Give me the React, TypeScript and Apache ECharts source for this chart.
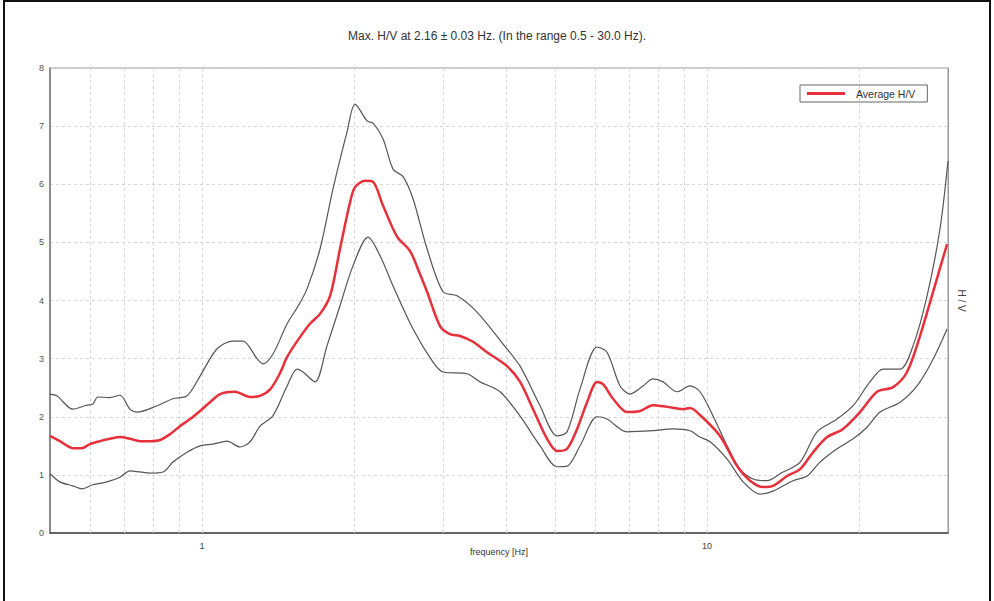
import React, { useEffect, useRef } from "react";
import * as echarts from "echarts";

const titleText = "Max. H/V at 2.16 ± 0.03 Hz. (In the range 0.5 - 30.0 Hz).";
const xAxisName = "frequency [Hz]";
const yAxisName = "H / V";
const legendName = "Average H/V";

const avgFreq = [0.5, 0.523, 0.555, 0.579, 0.6, 0.628, 0.657, 0.688, 0.72, 0.754, 0.789, 0.826, 0.864, 0.905, 0.947, 0.991, 1.037, 1.086, 1.162, 1.245, 1.303, 1.364, 1.427, 1.474, 1.563, 1.636, 1.713, 1.793, 1.876, 1.964, 2.009, 2.103, 2.181, 2.283, 2.433, 2.582, 2.702, 2.79, 2.96, 3.098, 3.243, 3.44, 3.667, 4.018, 4.264, 4.524, 4.822, 5.047, 5.282, 5.529, 5.787, 6.057, 6.225, 6.515, 6.945, 7.369, 7.818, 8.332, 8.966, 9.255, 9.685, 10.61, 11.47, 12.17, 12.91, 13.51, 14.4, 15.29, 16.22, 17.29, 18.59, 20.09, 21.71, 23.36, 24.89, 26.41, 28.03, 29.87];
const avgVal = [1.67, 1.58, 1.46, 1.46, 1.53, 1.58, 1.62, 1.65, 1.62, 1.58, 1.58, 1.6, 1.7, 1.84, 1.96, 2.1, 2.25, 2.39, 2.43, 2.34, 2.36, 2.47, 2.75, 3.03, 3.37, 3.6, 3.77, 4.08, 4.89, 5.69, 5.95, 6.06, 6.04, 5.63, 5.1, 4.85, 4.45, 4.15, 3.56, 3.42, 3.39, 3.29, 3.11, 2.87, 2.6, 2.13, 1.62, 1.41, 1.45, 1.79, 2.25, 2.6, 2.56, 2.31, 2.08, 2.1, 2.2, 2.17, 2.13, 2.15, 2.03, 1.67, 1.15, 0.9, 0.79, 0.81, 0.98, 1.1, 1.39, 1.65, 1.79, 2.08, 2.43, 2.51, 2.77, 3.39, 4.15, 4.97];

const upperFreq = [0.5, 0.516, 0.555, 0.592, 0.608, 0.622, 0.657, 0.688, 0.72, 0.744, 0.815, 0.876, 0.934, 0.991, 1.071, 1.152, 1.206, 1.285, 1.321, 1.382, 1.474, 1.549, 1.614, 1.713, 1.817, 1.937, 2.009, 2.122, 2.181, 2.283, 2.389, 2.5, 2.617, 2.79, 3.001, 3.199, 3.503, 3.946, 4.264, 4.67, 5.047, 5.282, 5.605, 6.057, 6.339, 6.727, 7.041, 7.47, 7.818, 8.182, 8.722, 9.255, 9.685, 10.28, 10.96, 11.62, 12.34, 13.15, 13.95, 15.29, 16.51, 18.09, 19.46, 21.02, 22.32, 24.12, 25.58, 27.27, 28.92, 30.0];
const upperVal = [2.39, 2.36, 2.13, 2.2, 2.22, 2.34, 2.33, 2.37, 2.13, 2.08, 2.19, 2.31, 2.36, 2.7, 3.17, 3.3, 3.3, 3.0, 2.91, 3.08, 3.6, 3.9, 4.2, 4.89, 5.92, 6.9, 7.38, 7.09, 7.05, 6.78, 6.26, 6.13, 5.75, 4.89, 4.15, 4.08, 3.8, 3.25, 2.87, 2.19, 1.67, 1.74, 2.48, 3.2, 3.11, 2.53, 2.39, 2.53, 2.65, 2.6, 2.43, 2.53, 2.43, 2.01, 1.5, 1.1, 0.93, 0.9, 1.02, 1.22, 1.74, 1.96, 2.19, 2.6, 2.82, 2.82, 3.22, 4.08, 5.23, 6.4];

const lowerFreq = [0.5, 0.523, 0.555, 0.579, 0.608, 0.648, 0.688, 0.72, 0.754, 0.789, 0.837, 0.876, 0.934, 0.991, 1.051, 1.121, 1.189, 1.245, 1.303, 1.382, 1.474, 1.542, 1.585, 1.674, 1.768, 1.876, 1.991, 2.132, 2.252, 2.389, 2.617, 2.867, 3.001, 3.348, 3.552, 3.892, 4.264, 4.67, 5.047, 5.282, 5.605, 6.057, 6.339, 6.945, 7.818, 8.564, 9.255, 9.685, 10.14, 10.96, 11.79, 12.73, 13.51, 14.8, 15.78, 16.74, 18.09, 19.46, 20.74, 22.01, 24.12, 26.05, 28.03, 29.87];
const lowerVal = [1.02, 0.88, 0.81, 0.76, 0.83, 0.88, 0.96, 1.07, 1.05, 1.03, 1.05, 1.22, 1.39, 1.5, 1.53, 1.58, 1.48, 1.57, 1.84, 2.02, 2.53, 2.82, 2.77, 2.6, 3.22, 3.91, 4.6, 5.09, 4.77, 4.25, 3.51, 2.94, 2.77, 2.74, 2.6, 2.43, 2.01, 1.5, 1.14, 1.15, 1.5, 2.0, 1.96, 1.74, 1.76, 1.79, 1.76, 1.65, 1.57, 1.27, 0.88, 0.67, 0.72, 0.9, 0.98, 1.22, 1.45, 1.62, 1.82, 2.08, 2.25, 2.53, 2.99, 3.51];

const verticalGridFreqs = [0.6, 0.7, 0.8, 0.9, 1, 2, 3, 4, 5, 6, 7, 8, 9, 10, 20];

const zip = (xs: number[], ys: number[]) => xs.map((x, i) => [x, ys[i]]);

export default function App() {
  const ref = useRef<HTMLDivElement>(null);
  useEffect(() => {
    if (!ref.current) return;
    const chart = echarts.init(ref.current, null, { renderer: "svg" });
    const font = "'Liberation Sans', Arial, sans-serif";
    chart.setOption({
      animation: false,
      backgroundColor: "#ffffff",
      textStyle: { fontFamily: font },
      title: {
        text: titleText,
        left: "center",
        top: 25,
        textStyle: { fontSize: 12, fontWeight: "normal", color: "#333", fontFamily: font },
      },
      legend: {
        data: [legendName],
        left: 800,
        top: 85,
        orient: "horizontal",
        icon: "rect",
        itemWidth: 38,
        itemHeight: 3,
        borderColor: "#666",
        borderWidth: 1,
        borderRadius: 0,
        padding: [3, 12, 3, 7],
        textStyle: { fontSize: 10.5, color: "#333", fontFamily: font, padding: [0, 0, 0, 6] },
      },
      graphic: [
        {
          type: "rect",
          shape: { x: 4, y: 1, width: 986, height: 603 },
          style: { fill: "none", stroke: "#111", lineWidth: 2 },
          silent: true,
        },
      ],
      grid: {
        left: 50,
        right: 46,
        top: 68,
        bottom: 68,
        show: true,
        borderColor: "#999",
        borderWidth: 1,
      },
      xAxis: {
        type: "log",
        logBase: 10,
        min: 0.5,
        max: 30,
        name: xAxisName,
        nameLocation: "middle",
        nameGap: 14,
        nameMoveOverlap: false,
        nameTextStyle: { fontSize: 9, color: "#333", verticalAlign: "top" },
        axisLine: { show: true, lineStyle: { color: "#444", width: 1.5 } },
        axisTick: { show: false },
        splitLine: { show: false },
        axisLabel: {
          fontSize: 9,
          color: "#444",
          margin: 8,
          formatter: (v: number) => {
            const l = Math.log10(v);
            if (Math.abs(l - Math.round(l)) < 1e-6 && v >= 1 && v <= 10) return String(Math.round(v));
            return "";
          },
        },
      },
      yAxis: [
        {
          type: "value",
          min: 0,
          max: 8,
          interval: 1,
          axisLine: { show: true, lineStyle: { color: "#777", width: 1.5 } },
          axisTick: { show: false },
          axisLabel: { fontSize: 9, color: "#555", margin: 6 },
          splitLine: { show: true, lineStyle: { color: "#d6d6d6", type: [3, 3], width: 1 } },
        },
        {
          type: "value",
          position: "right",
          min: 0,
          max: 8,
          interval: 1,
          name: yAxisName,
          nameLocation: "middle",
          nameRotate: -90,
          nameGap: 8,
          nameTextStyle: { fontSize: 10, color: "#444" },
          axisLine: { show: true, lineStyle: { color: "#999", width: 1 } },
          axisTick: { show: false },
          axisLabel: { show: false },
          splitLine: { show: false },
        },
      ],
      series: [
        {
          name: "Upper",
          type: "line",
          data: zip(upperFreq, upperVal),
          showSymbol: false,
          smooth: 0.3,
          lineStyle: { color: "#555", width: 1.2 },
          itemStyle: { color: "#555" },
          z: 2,
          markLine: {
            silent: true,
            symbol: ["none", "none"],
            label: { show: false },
            lineStyle: { color: "#d6d6d6", type: [3, 3], width: 1 },
            data: verticalGridFreqs.map((f) => ({ xAxis: f })),
            z: 1,
          },
        },
        {
          name: "Lower",
          type: "line",
          data: zip(lowerFreq, lowerVal),
          showSymbol: false,
          smooth: 0.3,
          lineStyle: { color: "#555", width: 1.2 },
          itemStyle: { color: "#555" },
          z: 2,
        },
        {
          name: legendName,
          type: "line",
          data: zip(avgFreq, avgVal),
          showSymbol: false,
          smooth: 0.3,
          lineStyle: { color: "#e8303a", width: 2.5 },
          itemStyle: { color: "#e8303a" },
          z: 3,
        },
      ],
    });
    return () => chart.dispose();
  }, []);
  return (
    <div
      ref={ref}
      style={{ position: "fixed", left: 0, top: 0, width: 994, height: 601 }}
    />
  );
}
